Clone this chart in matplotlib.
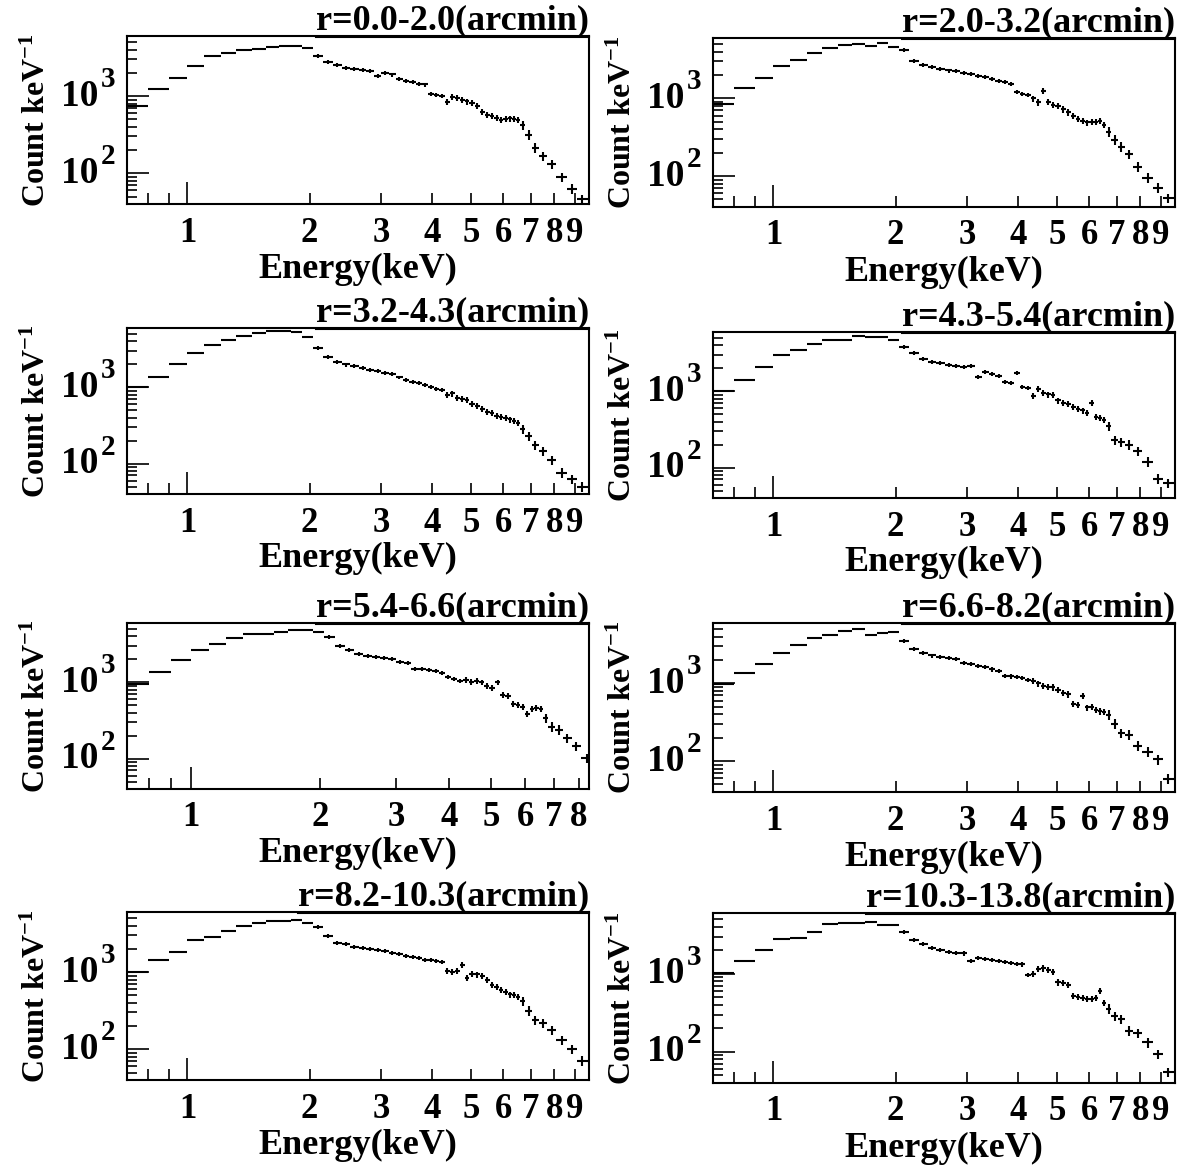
import numpy as np
import matplotlib
matplotlib.use("Agg")
import matplotlib.pyplot as plt
import matplotlib.transforms as mtransforms
from matplotlib.ticker import FixedLocator, FuncFormatter, NullFormatter
from matplotlib.lines import Line2D

# ---- fuentes estilo ROOT (Times bold) ----
plt.rcParams['font.family'] = ['Liberation Serif', 'DejaVu Serif']
plt.rcParams['font.weight'] = 'bold'
plt.rcParams['mathtext.fontset'] = 'custom'
plt.rcParams['mathtext.rm'] = 'Liberation Serif:bold'
plt.rcParams['mathtext.it'] = 'Liberation Serif:bold'
plt.rcParams['mathtext.bf'] = 'Liberation Serif:bold'

# =============================
# DATOS (bins de energía en keV, comunes a todos los anillos)
# =============================
edges = [0.71, 0.80, 0.90, 1.00, 1.10, 1.21, 1.32, 1.44, 1.56, 1.68, 1.80,
         1.92, 2.04, 2.16, 2.28, 2.40, 2.52, 2.64, 2.76, 2.88, 3.00, 3.13,
         3.26, 3.39, 3.52, 3.65, 3.78, 3.91, 4.04, 4.17, 4.30, 4.43, 4.56,
         4.69, 4.82, 4.95, 5.10, 5.25, 5.40, 5.55, 5.70, 5.85, 6.00, 6.15,
         6.30, 6.45, 6.60, 6.80, 7.05, 7.35, 7.70, 8.10, 8.60, 9.10, 9.70]

# error relativo por bin
rel_err = [0.03, 0.03, 0.03, 0.03, 0.03, 0.03, 0.03, 0.03, 0.03,
           0.03, 0.03, 0.03, 0.06, 0.06, 0.06, 0.06, 0.06, 0.06, 0.06,
           0.06, 0.06, 0.06, 0.06, 0.06, 0.06, 0.06, 0.06, 0.06, 0.06, 0.06,
           0.09, 0.09, 0.09, 0.09, 0.09, 0.09, 0.09, 0.09, 0.09, 0.09, 0.09,
           0.09, 0.09, 0.09, 0.09, 0.09, 0.14, 0.14, 0.14, 0.14, 0.14, 0.14,
           0.14, 0.14]

titles = ["r=0.0-2.0(arcmin)", "r=2.0-3.2(arcmin)", "r=3.2-4.3(arcmin)",
          "r=4.3-5.4(arcmin)", "r=5.4-6.6(arcmin)", "r=6.6-8.2(arcmin)",
          "r=8.2-10.3(arcmin)", "r=10.3-13.8(arcmin)"]

counts_r1 = [741, 1230, 1738, 2455, 3311, 3631, 3981, 4074, 4266, 4467,
             4467, 4169, 3311, 2754, 2512, 2344, 2239, 2188, 2089, 1820,
             1995, 1905, 1660, 1549, 1514, 1445, 1413, 1072, 1047, 1000,
             832, 977, 955, 891, 851, 813, 741, 631, 575, 550,
             525, 490, 501, 513, 501, 490, 417, 316, 214, 166,
             132, 89, 63, 46]
counts_r2 = [851, 1349, 1820, 2630, 3090, 3890, 4467, 4898, 5012, 4786,
             5248, 4571, 4169, 3020, 2692, 2512, 2399, 2291, 2239, 2138,
             2089, 1950, 1905, 1778, 1698, 1622, 1549, 1202, 1148, 1096,
             1000, 891, 1259, 912, 832, 794, 724, 661, 589, 550,
             513, 490, 501, 501, 513, 457, 372, 295, 240, 191,
             132, 95, 71, 52]
counts_r3 = [1000, 1380, 1995, 2818, 3631, 4169, 4677, 5129, 5495, 5495,
             5370, 4571, 3311, 2512, 2138, 1995, 1905, 1820, 1698, 1622,
             1549, 1479, 1349, 1259, 1175, 1148, 1072, 1000, 955, 912,
             794, 832, 724, 708, 676, 603, 575, 525, 479, 457,
             427, 407, 398, 380, 363, 339, 282, 229, 174, 145,
             110, 76, 63, 50]
counts_r4 = [1000, 1413, 2089, 3020, 3467, 4169, 4677, 4677, 5248, 5129,
             5129, 4677, 3802, 3162, 2692, 2455, 2344, 2239, 2138, 2089,
             2138, 1549, 1778, 1698, 1585, 1318, 1288, 1738, 1148, 1096,
             871, 1072, 955, 912, 891, 759, 708, 692, 631, 589,
             562, 525, 708, 457, 447, 427, 347, 229, 214, 200,
             166, 120, 72, 63]
counts_r5 = [955, 1349, 1950, 2630, 3162, 3802, 4266, 4365, 4571, 4786,
             4898, 4571, 3981, 3020, 2692, 2344, 2188, 2138, 2089, 2042,
             1862, 1820, 1514, 1479, 1445, 1413, 1318, 1175, 1122, 1047,
             1072, 1023, 1047, 1000, 891, 851, 1000, 692, 661, 525,
             501, 479, 389, 447, 457, 447, 339, 263, 240, 186,
             145, 102, 83, 63]
counts_r6 = [977, 1380, 1778, 2455, 3162, 3802, 4169, 4786, 5012, 4266,
             4467, 4571, 3548, 2754, 2455, 2291, 2188, 2138, 2042, 1820,
             1778, 1660, 1622, 1514, 1445, 1259, 1230, 1202, 1175, 1122,
             1072, 1000, 933, 912, 891, 832, 759, 724, 550, 525,
             692, 490, 501, 457, 437, 427, 398, 302, 229, 219,
             158, 132, 105, 59]
counts_r7 = [1000, 1445, 1820, 2570, 2884, 3388, 3981, 4365, 4571, 4571,
             4677, 4266, 3802, 2951, 2399, 2291, 2138, 2042, 1995, 1950,
             1862, 1778, 1698, 1622, 1585, 1514, 1445, 1445, 1380, 1349,
             1023, 1000, 1023, 1230, 832, 955, 933, 891, 794, 676,
             646, 589, 550, 513, 501, 479, 417, 316, 240, 219,
             178, 132, 100, 71]
counts_r8 = [1023, 1479, 2042, 2754, 2884, 3467, 4365, 4467, 4467, 4571,
             4169, 4169, 3467, 2692, 2399, 2138, 2042, 1905, 1862, 1820,
             1445, 1585, 1549, 1514, 1479, 1413, 1380, 1349, 1318, 977,
             1000, 1148, 1175, 1122, 1047, 776, 759, 724, 525, 501,
             490, 479, 479, 490, 603, 427, 355, 288, 263, 186,
             174, 132, 93, 55]

all_counts = [counts_r1, counts_r2, counts_r3, counts_r4,
              counts_r5, counts_r6, counts_r7, counts_r8]

# límite superior de energía de cada panel
x_max = [9.75, 9.75, 9.75, 9.75, 8.45, 9.75, 9.75, 9.75]

# =============================
# FIGURA
# =============================
W, H = 1181, 1174
fig = plt.figure(figsize=(W / 100, H / 100), dpi=100)

# cajas de los ejes en píxeles (izq, arriba, der, abajo)
boxes = [(127, 36, 589, 204), (713, 38, 1175, 207),
         (127, 328, 589, 494), (713, 332, 1175, 498),
         (127, 623, 589, 789), (713, 623, 1175, 792),
         (127, 912, 589, 1080), (713, 913, 1175, 1083)]

e = np.array(edges)
centers = np.sqrt(e[:-1] * e[1:])
xlo = centers - e[:-1]
xhi = e[1:] - centers
rerr = np.array(rel_err)

xlabels = {1.0: '1', 2.0: '2', 3.0: '3', 4.0: '4', 5.0: '5',
           6.0: '6', 7.0: '7', 8.0: '8', 9.0: '9'}

title_texts = []
for i, (l, t, r, b) in enumerate(boxes):
    ax = fig.add_axes([l / W, 1 - b / H, (r - l) / W, (b - t) / H])
    c = np.array(all_counts[i], dtype=float)

    ax.errorbar(centers, c, xerr=[xlo, xhi], yerr=c * rerr, fmt='none',
                ecolor='k', elinewidth=1.5, capsize=0)

    ax.set_xscale('log')
    ax.set_yscale('log')
    ax.set_xlim(0.71, x_max[i])
    ax.set_ylim(40, 6000)

    # ticks eje x
    ax.xaxis.set_major_locator(FixedLocator([1.0]))
    ax.xaxis.set_minor_locator(FixedLocator([0.8, 0.9, 2, 3, 4, 5, 6, 7, 8, 9]))
    fmt = FuncFormatter(lambda v, p: xlabels.get(round(v, 1), ''))
    ax.xaxis.set_major_formatter(fmt)
    ax.xaxis.set_minor_formatter(fmt)

    # ticks eje y (etiquetas "10 ^n" dibujadas a mano, estilo ROOT)
    ax.yaxis.set_major_locator(FixedLocator([100, 1000]))
    ax.yaxis.set_major_formatter(NullFormatter())
    ax.yaxis.set_minor_locator(FixedLocator(
        [40, 50, 60, 70, 80, 90, 200, 300, 400, 500, 600, 700, 800, 900,
         2000, 3000, 4000, 5000]))
    ax.yaxis.set_minor_formatter(NullFormatter())
    blend = mtransforms.blended_transform_factory(ax.transAxes, ax.transData)
    up = mtransforms.offset_copy(blend, fig=fig, y=3, units='dots')
    for v, ex in [(100, '2'), (1000, '3')]:
        ax.text(-0.063, v, '10', transform=blend, ha='right', va='center',
                fontsize=27, fontweight='bold')
        ax.text(-0.057, v, ex, transform=up, ha='left', va='bottom',
                fontsize=21, fontweight='bold')

    ax.tick_params(axis='both', which='both', direction='in',
                   top=False, right=False, width=1.2, labelsize=25)
    ax.tick_params(axis='x', which='major', length=16, pad=9)
    ax.tick_params(axis='x', which='minor', length=8, pad=9)
    ax.tick_params(axis='y', which='major', length=16)
    ax.tick_params(axis='y', which='minor', length=7)
    for s in ax.spines.values():
        s.set_linewidth(1.5)

    ax.set_xlabel('Energy(keV)', fontsize=26, fontweight='bold')
    ax.xaxis.set_label_coords(0.5, -0.29)
    ax.set_ylabel('Count keV$^{-1}$', fontsize=23, fontweight='bold')
    ax.yaxis.set_label_coords(-0.162, 0.5)

    tt = ax.text(1.0, 1.04, titles[i], transform=ax.transAxes, ha='right',
                 va='baseline', fontsize=26, fontweight='bold')
    title_texts.append(tt)

# subrayado de los títulos (como la caja de título de ROOT)
fig.canvas.draw()
rend = fig.canvas.get_renderer()
inv = fig.transFigure.inverted()
for tt in title_texts:
    bb = tt.get_window_extent(renderer=rend)
    (x0, y0), (x1, _) = inv.transform([(bb.x0, bb.y0), (bb.x1, bb.y0)])
    fig.add_artist(Line2D([x0, x1], [y0, y0], transform=fig.transFigure,
                          color='k', lw=1.5))

fig.savefig('out.png', dpi=100)
